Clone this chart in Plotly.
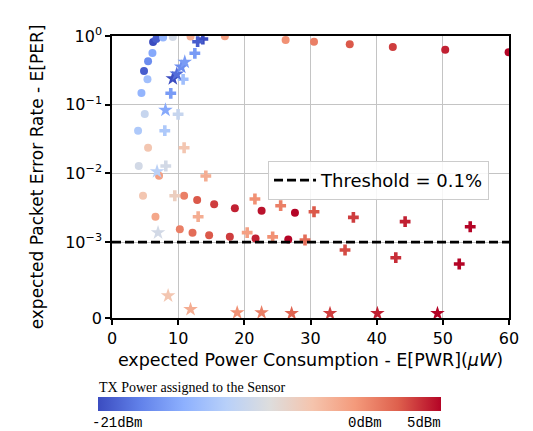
import math
import plotly.graph_objects as go

# ---------------- data ----------------
# circles: (E[PWR] uW, E[PER], TX power dBm)
circ_x = [6.21, 6.69, 7.72, 9.19, 11.87, 6.11, 5.45, 4.84, 5.36, 4.45, 4.95, 3.94, 5.45, 4.04,
          7.11, 4.69, 10.90, 12.87, 15.44, 18.57, 22.61, 27.65, 6.57, 10.25, 12.17, 14.68, 17.81,
          21.70, 26.64, 17.06, 26.24, 30.53, 35.93, 42.44, 50.36, 59.94]
circ_y = [0.818, 0.904, 0.951, 0.97, 0.98, 0.566, 0.428, 0.309, 0.234, 0.148, 0.0731, 0.0418,
          0.0236, 0.0128, 0.00924, 0.00472, 0.00472, 0.00409, 0.00354, 0.00310, 0.00286, 0.00267,
          0.00234, 0.00153, 0.00137, 0.00126, 0.00119, 0.00113, 0.00109, 0.99, 0.874, 0.826,
          0.757, 0.691, 0.632, 0.579]
circ_tx = [-21, -20, -14, -9, -3, -15, -17, -20, -13, -14, -10, -12, -5, -9, -2, -5, 0, 2, 3, 4,
           4.5, 5, -2.5, 0, 1, 2, 3, 4, 5, -2, -1, 0, 2, 3, 4, 5]

plus_x = [13.73, 12.94, 12.52, 10.75, 8.88, 9.99, 7.98, 10.90, 8.13, 14.18, 9.49, 13.02, 21.60,
          25.49, 30.53, 36.48, 44.30, 54.14, 20.43, 24.28, 29.17, 35.22, 42.89, 52.48]
plus_y = [0.904, 0.826, 0.560, 0.234, 0.1465, 0.0724, 0.0418, 0.0236, 0.0128, 0.00915, 0.00472,
          0.00234, 0.00423, 0.00338, 0.00276, 0.00229, 0.00198, 0.00167, 0.00137, 0.00119,
          0.00107, 0.000895, 0.000794, 0.000711]
plus_tx = [-21, -20, -16, -13, -16, -10, -12, -5, -9, -3, -6, -3, -1, 0, 2, 3, 4, 5, -2, -1, 1,
           2.5, 3.5, 5]

star_x = [9.19, 9.79, 10.47, 11.0, 8.08, 6.81, 6.96, 8.48, 11.87, 18.92, 22.61, 27.15, 32.95,
          40.11, 49.19]
star_y = [0.240, 0.280, 0.354, 0.418, 0.0836, 0.01064, 0.00137, 0.000293, 0.000114, 0.00007,
          0.00007, 0.000061, 0.00006, 0.00006, 0.00006]
star_tx = [-21, -19, -17, -16, -15, -11, -9, -5, -3, -1, 0, 1.5, 3, 4, 5]

threshold = 1e-3
x_ticks = [0, 10, 20, 30, 40, 50, 60]
y_tick_values = [1, 1e-1, 1e-2, 1e-3, 0]
y_tick_text = ["10<sup>0</sup>", "10<sup>−1</sup>", "10<sup>−2</sup>", "10<sup>−3</sup>", "0"]
tx_min, tx_max = -21, 5
cb_labels = ["-21dBm", "0dBm", "5dBm"]

# symlog-like transform (linear below 1e-3)
LIN = 1.106


def ypos(v):
    if v >= threshold:
        return math.log10(v)
    return -3 - (threshold - v) / threshold * LIN


coolwarm = [
    [0.0, "rgb(59,76,192)"], [0.125, "rgb(98,130,234)"], [0.25, "rgb(141,176,254)"],
    [0.375, "rgb(184,208,249)"], [0.5, "rgb(221,221,221)"], [0.625, "rgb(245,196,173)"],
    [0.75, "rgb(244,154,123)"], [0.875, "rgb(222,96,77)"], [1.0, "rgb(180,4,38)"],
]

fig = go.Figure()


def add(xs, ys, cs, symbol, size, showscale=False):
    fig.add_trace(go.Scatter(
        x=xs, y=[ypos(v) for v in ys], mode="markers", showlegend=False,
        marker=dict(symbol=symbol, size=size, color=cs, colorscale=coolwarm,
                    cmin=tx_min, cmax=tx_max, line=dict(width=0),
                    showscale=showscale,
                    colorbar=dict(orientation="h", thickness=14, len=343, lenmode="pixels",
                                  x=-0.0345, xanchor="left", y=-0.279, yanchor="top",
                                  xpad=0, ypad=0, outlinewidth=0, showticklabels=False,
                                  ticks="") if showscale else None),
    ))


add(circ_x, circ_y, circ_tx, "circle", 8, showscale=True)
add(plus_x, plus_y, plus_tx, "cross", 9)
add(star_x, star_y, star_tx, "star", 11)

fig.add_trace(go.Scatter(
    x=[0, 60], y=[ypos(threshold)] * 2, mode="lines", name="Threshold = 0.1%",
    line=dict(color="black", width=2.8, dash="9px,4px"), showlegend=True,
))

fig.update_layout(
    width=533, height=431,
    margin=dict(l=112, r=24, t=36, b=113),
    paper_bgcolor="white", plot_bgcolor="white",
    font=dict(family="DejaVu Sans", size=16, color="black"),
    xaxis=dict(range=[0, 60], tickvals=x_ticks, showgrid=True, gridcolor="#c4c4c4", gridwidth=1.3,
               zeroline=False, showline=True, linecolor="black", linewidth=1.5, mirror=True,
               ticks="outside", ticklen=5, tickwidth=1.5, tickcolor="black",
               title=dict(text="expected Power Consumption - E[PWR](<i>μW</i>)", standoff=7,
                          font=dict(size=17.5))),
    yaxis=dict(range=[ypos(0), 0], tickvals=[ypos(v) for v in y_tick_values], ticktext=y_tick_text,
               showgrid=True, gridcolor="#c4c4c4", gridwidth=1.3, zeroline=False,
               showline=True, linecolor="black", linewidth=1.5, mirror=True,
               ticks="outside", ticklen=5, tickwidth=1.5, tickcolor="black",
               title=dict(text="expected Packet Error Rate - E[PER]", standoff=17,
                          font=dict(size=17))),
    legend=dict(x=0.393, y=0.557, xanchor="left", yanchor="top", itemwidth=42,
                bgcolor="rgba(255,255,255,0.85)", bordercolor="#cccccc", borderwidth=1,
                font=dict(size=18)),
)

fig.add_annotation(text="TX Power assigned to the Sensor", xref="paper", yref="paper",
                   x=-0.0378, y=-0.2447, xanchor="left", yanchor="middle", showarrow=False,
                   font=dict(family="Liberation Serif", size=14, color="black"))
fig.add_annotation(text=cb_labels[0], xref="paper", yref="paper", x=-0.0554, y=-0.372,
                   xanchor="left", yanchor="middle", showarrow=False,
                   font=dict(family="Liberation Mono", size=14, color="black"))
fig.add_annotation(text=cb_labels[1], xref="paper", yref="paper", x=0.637, y=-0.372,
                   xanchor="center", yanchor="middle", showarrow=False,
                   font=dict(family="Liberation Mono", size=14, color="black"))
fig.add_annotation(text=cb_labels[2], xref="paper", yref="paper", x=0.834, y=-0.372,
                   xanchor="right", yanchor="middle", showarrow=False,
                   font=dict(family="Liberation Mono", size=14, color="black"))

fig.write_html("out.html", config={"displayModeBar": False},
               post_script="document.body.style.margin='0';")
